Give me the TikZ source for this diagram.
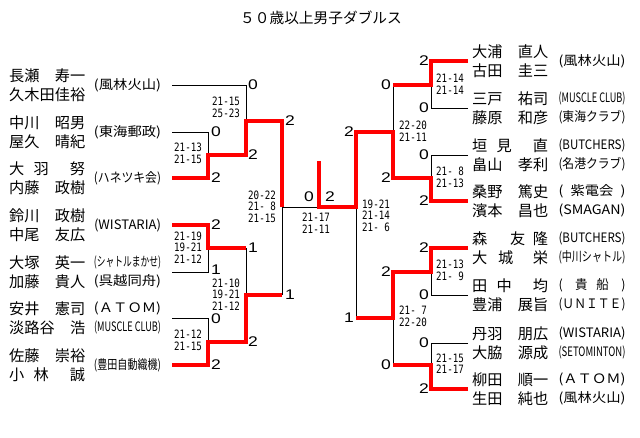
\documentclass[tikz,border=0pt]{standalone}
\usepackage{fontspec}
\setmainfont{Noto Sans CJK JP}
\newfontfamily\scorefont[FakeStretch=0.8]{DejaVu Sans Mono}
\newfontfamily\digitfont[FakeStretch=1.25]{Liberation Sans}
\usepackage{tikz}
\newcommand{\clubname}[1]{\resizebox{67pt}{\height}{#1}}
\newcommand{\gapa}{\hspace{.6em}}
\newcommand{\gapb}{\hspace{1.4em}}
\tikzset{
  lose/.style={line width=1pt},
  win/.style={red, line width=3.4pt},
  player/.style={anchor=west, inner sep=0pt, font=\fontsize{15.2}{15.2}\selectfont},
  club/.style={inner sep=0pt, font=\fontsize{13}{13}\selectfont},
  games/.style={anchor=west, inner sep=0pt, align=left, font=\scorefont\fontsize{11.5}{11.5}\selectfont},
  sets/.style={inner sep=0pt, font=\digitfont\fontsize{14}{14}\selectfont},
  heading/.style={inner sep=0pt, font=\fontsize{14.7}{14.7}\selectfont}
}

\begin{document}
\begin{tikzpicture}[x=1pt,y=-1pt]
\useasboundingbox (0,0) rectangle (640,437);
\node[heading] (title) at (321,18) {５０歳以上男子ダブルス};

\node[player] (l1a) at (9,75.5) {長瀬　寿一};
\node[player] (l1b) at (9,94.5) {久木田佳裕};
\node[player] (l2a) at (9,122.5) {中川　昭男};
\node[player] (l2b) at (9,141.5) {屋久　晴紀};
\node[player] (l3a) at (9,168.5) {大\gapa 羽\gapb 努};
\node[player] (l3b) at (9,187.5) {内藤　政樹};
\node[player] (l4a) at (9,215.5) {鈴川　政樹};
\node[player] (l4b) at (9,234.5) {中尾　友広};
\node[player] (l5a) at (9,262.5) {大塚　英一};
\node[player] (l5b) at (9,281.5) {加藤　貴人};
\node[player] (l6a) at (9,308.5) {安井　憲司};
\node[player] (l6b) at (9,327.5) {淡路谷　浩};
\node[player] (l7a) at (9,355.5) {佐藤　崇裕};
\node[player] (l7b) at (9,374.5) {小\gapa 林\gapb 誠};

\node[club] (cl1) at (127.5,85) {\clubname{(風林火山)}};
\node[club] (cl2) at (127.5,132) {\clubname{(東海郵政)}};
\node[club] (cl3) at (127.5,178) {\clubname{(ハネツキ会)}};
\node[club] (cl4) at (127.5,225) {\clubname{(WISTARIA)}};
\node[club] (cl5a) at (127.5,262.5) {\clubname{(シャトルまかせ)}};
\node[club] (cl5b) at (127.5,281.5) {\clubname{(呉越同舟)}};
\node[club] (cl6a) at (127.5,308.5) {\clubname{(ＡＴＯＭ)}};
\node[club] (cl6b) at (127.5,327.5) {\clubname{(MUSCLE CLUB)}};
\node[club] (cl7) at (127.5,365) {\clubname{(豊田自動織機)}};

\node[player] (r1a) at (472,51.5) {大浦　直人};
\node[player] (r1b) at (472,70.5) {古田　圭三};
\node[player] (r2a) at (472,98.5) {三戸　祐司};
\node[player] (r2b) at (472,117.5) {藤原　和彦};
\node[player] (r3a) at (472,145.5) {垣\gapa 見\gapb 直};
\node[player] (r3b) at (472,164.5) {畠山　孝利};
\node[player] (r4a) at (472,191.5) {桑野　篤史};
\node[player] (r4b) at (472,210.5) {濱本　昌也};
\node[player] (r5a) at (472,238.5) {森\hspace{1.5em}友\hspace{.5em}隆};
\node[player] (r5b) at (472,257.5) {大\hspace{.7em}城\hspace{1.3em}栄};
\node[player] (r6a) at (472,285.5) {田\gapa 中\gapb 均};
\node[player] (r6b) at (472,304.5) {豊浦　展旨};
\node[player] (r7a) at (472,333.5) {丹羽　朋広};
\node[player] (r7b) at (472,352.5) {大脇　源成};
\node[player] (r8a) at (472,379.5) {柳田　順一};
\node[player] (r8b) at (472,398.5) {生田　純也};

\node[club] (cr1) at (592,61) {\clubname{(風林火山)}};
\node[club] (cr2a) at (592,98.5) {\clubname{(MUSCLE CLUB)}};
\node[club] (cr2b) at (592,117.5) {\clubname{(東海クラブ)}};
\node[club] (cr3a) at (592,145.5) {\clubname{(BUTCHERS)}};
\node[club] (cr3b) at (592,164.5) {\clubname{(名港クラブ)}};
\node[club] (cr4a) at (592,191.5) {\clubname{(\hspace{.5em}紫電会\hspace{.5em})}};
\node[club] (cr4b) at (592,210.5) {\clubname{(SMAGAN)}};
\node[club] (cr5a) at (592,238.5) {\clubname{(BUTCHERS)}};
\node[club] (cr5b) at (592,257.5) {\clubname{(中川シャトル)}};
\node[club] (cr6a) at (592,285.5) {\clubname{(\hspace{1em}貴\hspace{.7em}船\hspace{1em})}};
\node[club] (cr6b) at (592,304.5) {\clubname{(ＵＮＩＴＥ)}};
\node[club] (cr7a) at (592,333.5) {\clubname{(WISTARIA)}};
\node[club] (cr7b) at (592,352.5) {\clubname{(SETOMINTON)}};
\node[club] (cr8a) at (592,379.5) {\clubname{(ＡＴＯＭ)}};
\node[club] (cr8b) at (592,398.5) {\clubname{(風林火山)}};

\coordinate (tl1) at (172,85);
\coordinate (tl2) at (172,132);
\coordinate (tl3) at (172,178);
\coordinate (tl4) at (172,225);
\coordinate (tl5) at (172,272);
\coordinate (tl6) at (172,318);
\coordinate (tl7) at (172,365);
\coordinate (tr1) at (468,61);
\coordinate (tr2) at (468,108);
\coordinate (tr3) at (468,155);
\coordinate (tr4) at (468,201);
\coordinate (tr5) at (468,248);
\coordinate (tr6) at (468,295);
\coordinate (tr7) at (468,343);
\coordinate (tr8) at (468,389);

% losers
\draw[lose] (tl1) -| (246,121);
\draw[lose] (tl2) -| (208,155);
\draw[lose] (tl5) -| (208,248);
\draw[lose] (tl6) -| (208,342);
\draw[lose] (246,248) -- (246,295);
\draw[lose] (282,295) -- (282,207) -- (319,207);
\draw[lose] (tr2) -| (431,85);
\draw[lose] (tr3) -| (431,178);
\draw[lose] (tr6) -| (431,272);
\draw[lose] (tr7) -| (431,365);
\draw[lose] (393,85) -- (393,132);
\draw[lose] (393,318) -- (393,365);
\draw[lose] (356,207) -- (356,318);

% winners
\draw[win] (tl3) -| (208,155) -| (246,121) -| (282,207);
\draw[win] (tl4) -| (208,248) -- (246,248);
\draw[win] (tl7) -| (208,342) -| (246,295) -- (282,295);
\draw[win] (319,161) |- (356,207) |- (393,132) |- (431,178) |- (tr4);
\draw[win] (tr1) -| (431,85) -- (393,85);
\draw[win] (tr5) -| (431,272) -| (393,318) -- (356,318);
\draw[win] (tr8) -| (431,365) -- (393,365);

\node[sets] (gl2) at (216,132) {0};
\node[sets] (gl3) at (216,178) {2};
\node[sets] (gl4) at (216,225) {2};
\node[sets] (gl5) at (216,269.5) {1};
\node[sets] (gl6) at (216,319) {0};
\node[sets] (gl7) at (216,365) {2};
\node[sets] (ql1) at (253,85) {0};
\node[sets] (ql2) at (253,155) {2};
\node[sets] (ql3) at (253,248) {1};
\node[sets] (ql4) at (253,342) {2};
\node[sets] (sl1) at (290,121) {2};
\node[sets] (sl2) at (290,295) {1};
\node[sets] (fl) at (309,197) {0};
\node[sets] (fr) at (330,197) {2};
\node[sets] (sr1) at (349,132) {2};
\node[sets] (sr2) at (349,318) {1};
\node[sets] (qr1) at (386,85) {0};
\node[sets] (qr2) at (386,178) {2};
\node[sets] (qr3) at (386,272) {2};
\node[sets] (qr4) at (386,365) {0};
\node[sets] (gr1) at (424,61) {2};
\node[sets] (gr2) at (424,108) {0};
\node[sets] (gr3) at (424,155) {0};
\node[sets] (gr4) at (424,201) {2};
\node[sets] (gr5) at (424,248) {2};
\node[sets] (gr6) at (424,295) {0};
\node[sets] (gr7) at (424,343) {0};
\node[sets] (gr8) at (424,389) {2};

\node[games] (ml1) at (174,153.5) {21-13\\21-15};
\node[games] (ml2) at (212,107.5) {21-15\\25-23};
\node[games] (ml3) at (174,247.5) {21-19\\19-21\\21-12};
\node[games] (ml4) at (212,294.5) {21-10\\19-21\\21-12};
\node[games] (ml5) at (174,340.5) {21-12\\21-15};
\node[games] (ml6) at (248,206.5) {20-22\\21- 8\\21-15};
\node[games] (mf) at (302,223) {21-17\\21-11};
\node[games] (mr6) at (362,215.5) {19-21\\21-14\\21- 6};
\node[games] (mr2) at (399,131) {22-20\\21-11};
\node[games] (mr1) at (436,84) {21-14\\21-14};
\node[games] (mr3) at (436,177.5) {21- 8\\21-13};
\node[games] (mr4) at (399,316.5) {21- 7\\22-20};
\node[games] (mr5) at (436,270.5) {21-13\\21- 9};
\node[games] (mr7) at (436,363.5) {21-15\\21-17};
\end{tikzpicture}
\end{document}
